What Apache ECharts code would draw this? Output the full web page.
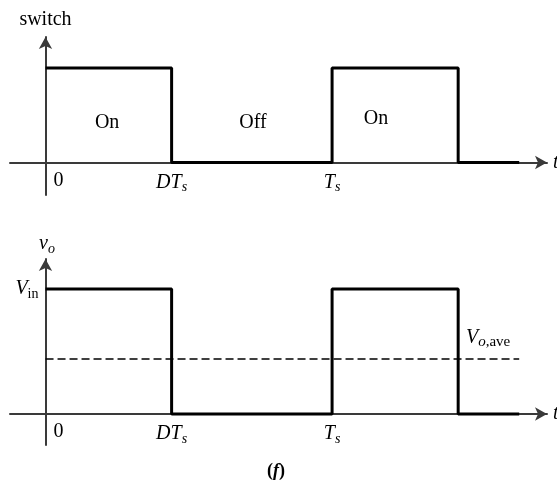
<!DOCTYPE html>
<html>
<head>
<meta charset="utf-8">
<script src="https://cdn.jsdelivr.net/npm/echarts@6/dist/echarts.min.js"></script>
<style>
  html, body { margin: 0; padding: 0; background: #fff; }
  #chart { width: 557px; height: 482px; }
</style>
</head>
<body>
<div id="chart"></div>
<script>
// Buck converter: switch state and output voltage over one and a half periods
const FONT = "'Liberation Serif', 'Times New Roman', serif";

// time in units of Ts, duty ratio D = 0.44
const edgeTimes = [0, 0.44, 1, 1.44, 1.653];
const switchLevels = [1, 0, 1, 0, 0];
const outputLevels = [1, 0, 1, 0, 0];
const outputAverage = 0.44;

// time-axis tick positions and their labels
const tickValues = [0, 0.44, 1];
const tickLabels = ['{zero|0}', '{it|DT}{sub|s}', '{it|T}{sub|s}'];

// labels of switch state inside the top waveform
const stateNames = ['On', 'Off', 'On'];
const stateTimes = [0.215, 0.724, 1.153];
const stateLevels = [0.418, 0.418, 0.46];

// level labels on the output-voltage axis
const voltageTickValues = [1];
const voltageTickLabels = ['{it|V}{subr|in}'];

const rich = {
  it:   { fontFamily: FONT, fontStyle: 'italic', fontSize: 20, color: '#000' },
  rm:   { fontFamily: FONT, fontSize: 20, color: '#000' },
  sub:  { fontFamily: FONT, fontStyle: 'italic', fontSize: 14, color: '#000', padding: [10, 0, 0, 0] },
  subr: { fontFamily: FONT, fontSize: 14, color: '#000', padding: [10, 0, 0, 0] },
  subL:  { fontFamily: FONT, fontStyle: 'italic', fontSize: 15, color: '#000', padding: [10, 0, 0, 0] },
  subLr: { fontFamily: FONT, fontSize: 15, color: '#000', padding: [10, 0, 0, 0] },
  zero: { fontFamily: FONT, fontSize: 20, color: '#000', padding: [0, 0, 0, 26] }
};

const axisLineStyle = { color: '#3a3a3a', width: 2 };
const arrowSize = [10, 12];

// the time axis runs through v = 0, which sits `lift` px above the grid's bottom edge
function timeAxis(gridIndex, lift) {
  return {
    type: 'value', gridIndex: gridIndex, min: -0.124, max: 1.75,
    position: 'bottom', offset: -lift,
    axisLine: { onZero: false, symbol: ['none', 'arrow'], symbolSize: arrowSize, lineStyle: axisLineStyle },
    axisTick: { show: false },
    splitLine: { show: false },
    axisLabel: {
      customValues: tickValues,
      formatter: function (v) { return tickLabels[tickValues.indexOf(v)]; },
      margin: 8,
      rich: rich
    },
    name: 't', nameLocation: 'end', nameGap: 6,
    nameTextStyle: { fontFamily: FONT, fontStyle: 'italic', fontSize: 20, color: '#000' }
  };
}

// the vertical axis runs through t = 0, 35.5 px right of the grid's left edge
const yShift = 35.5;

const chart = echarts.init(document.getElementById('chart'), null, { renderer: 'canvas' });

chart.setOption({
  animation: false,
  backgroundColor: '#fff',
  title: {
    text: '{rm|(}{it|f}{rm|)}',
    left: 262, top: 457,
    textStyle: { rich: {
      rm: { fontFamily: FONT, fontSize: 18, color: '#000' },
      it: { fontFamily: FONT, fontSize: 18, fontStyle: 'italic', color: '#000' }
    } }
  },
  grid: [
    { left: 10, right: 10, top: 37, height: 158, outerBoundsMode: 'none', containLabel: false },
    { left: 10, right: 10, top: 259, height: 186, outerBoundsMode: 'none', containLabel: false }
  ],
  xAxis: [timeAxis(0, 32.5), timeAxis(1, 31)],
  yAxis: [
    {
      type: 'value', gridIndex: 0, min: -0.344, max: 1.328,
      position: 'left', offset: -yShift,
      axisLine: { onZero: false, symbol: ['none', 'arrow'], symbolSize: arrowSize, lineStyle: axisLineStyle },
      axisTick: { show: false }, splitLine: { show: false }, axisLabel: { show: false },
      name: 'switch', nameLocation: 'end', nameGap: 7,
      nameTextStyle: { fontFamily: FONT, fontSize: 20, color: '#000' }
    },
    {
      type: 'value', gridIndex: 1, min: -0.248, max: 1.24,
      position: 'left', offset: -yShift,
      axisLine: { onZero: false, symbol: ['none', 'arrow'], symbolSize: arrowSize, lineStyle: axisLineStyle },
      axisTick: { show: false }, splitLine: { show: false },
      axisLabel: {
        customValues: voltageTickValues,
        formatter: function (v) { return voltageTickLabels[voltageTickValues.indexOf(v)]; },
        margin: 7,
        rich: rich
      },
      name: '{it|v}{sub|o}', nameLocation: 'end', nameGap: 3,
      nameTextStyle: { rich: rich, padding: [0, 0, 0, 3] }
    }
  ],
  series: [
    {
      type: 'line', xAxisIndex: 0, yAxisIndex: 0, step: 'end', symbol: 'none', silent: true,
      data: edgeTimes.map(function (t, i) { return [t, switchLevels[i]]; }),
      lineStyle: { color: '#000', width: 3 }
    },
    {
      type: 'scatter', xAxisIndex: 0, yAxisIndex: 0, symbolSize: 0, silent: true,
      itemStyle: { opacity: 1 },
      data: stateNames.map(function (n, i) { return { name: n, value: [stateTimes[i], stateLevels[i]] }; }),
      label: {
        show: true, position: 'inside', formatter: '{b}',
        fontFamily: FONT, fontSize: 20, color: '#000'
      }
    },
    {
      type: 'line', xAxisIndex: 1, yAxisIndex: 1, step: 'end', symbol: 'none', silent: true,
      data: edgeTimes.map(function (t, i) { return [t, outputLevels[i]]; }),
      lineStyle: { color: '#000', width: 3 },
      markLine: {
        silent: true, symbol: 'none',
        lineStyle: { color: '#000', width: 1.5, type: [8, 4] },
        label: {
          show: true, position: 'insideEndTop', distance: 9,
          formatter: '{it|V}{subL|o}{subLr|,ave}', rich: rich
        },
        data: [[
          { coord: [0, outputAverage] },
          { coord: [edgeTimes[edgeTimes.length - 1], outputAverage] }
        ]]
      }
    }
  ]
});
</script>
</body>
</html>
